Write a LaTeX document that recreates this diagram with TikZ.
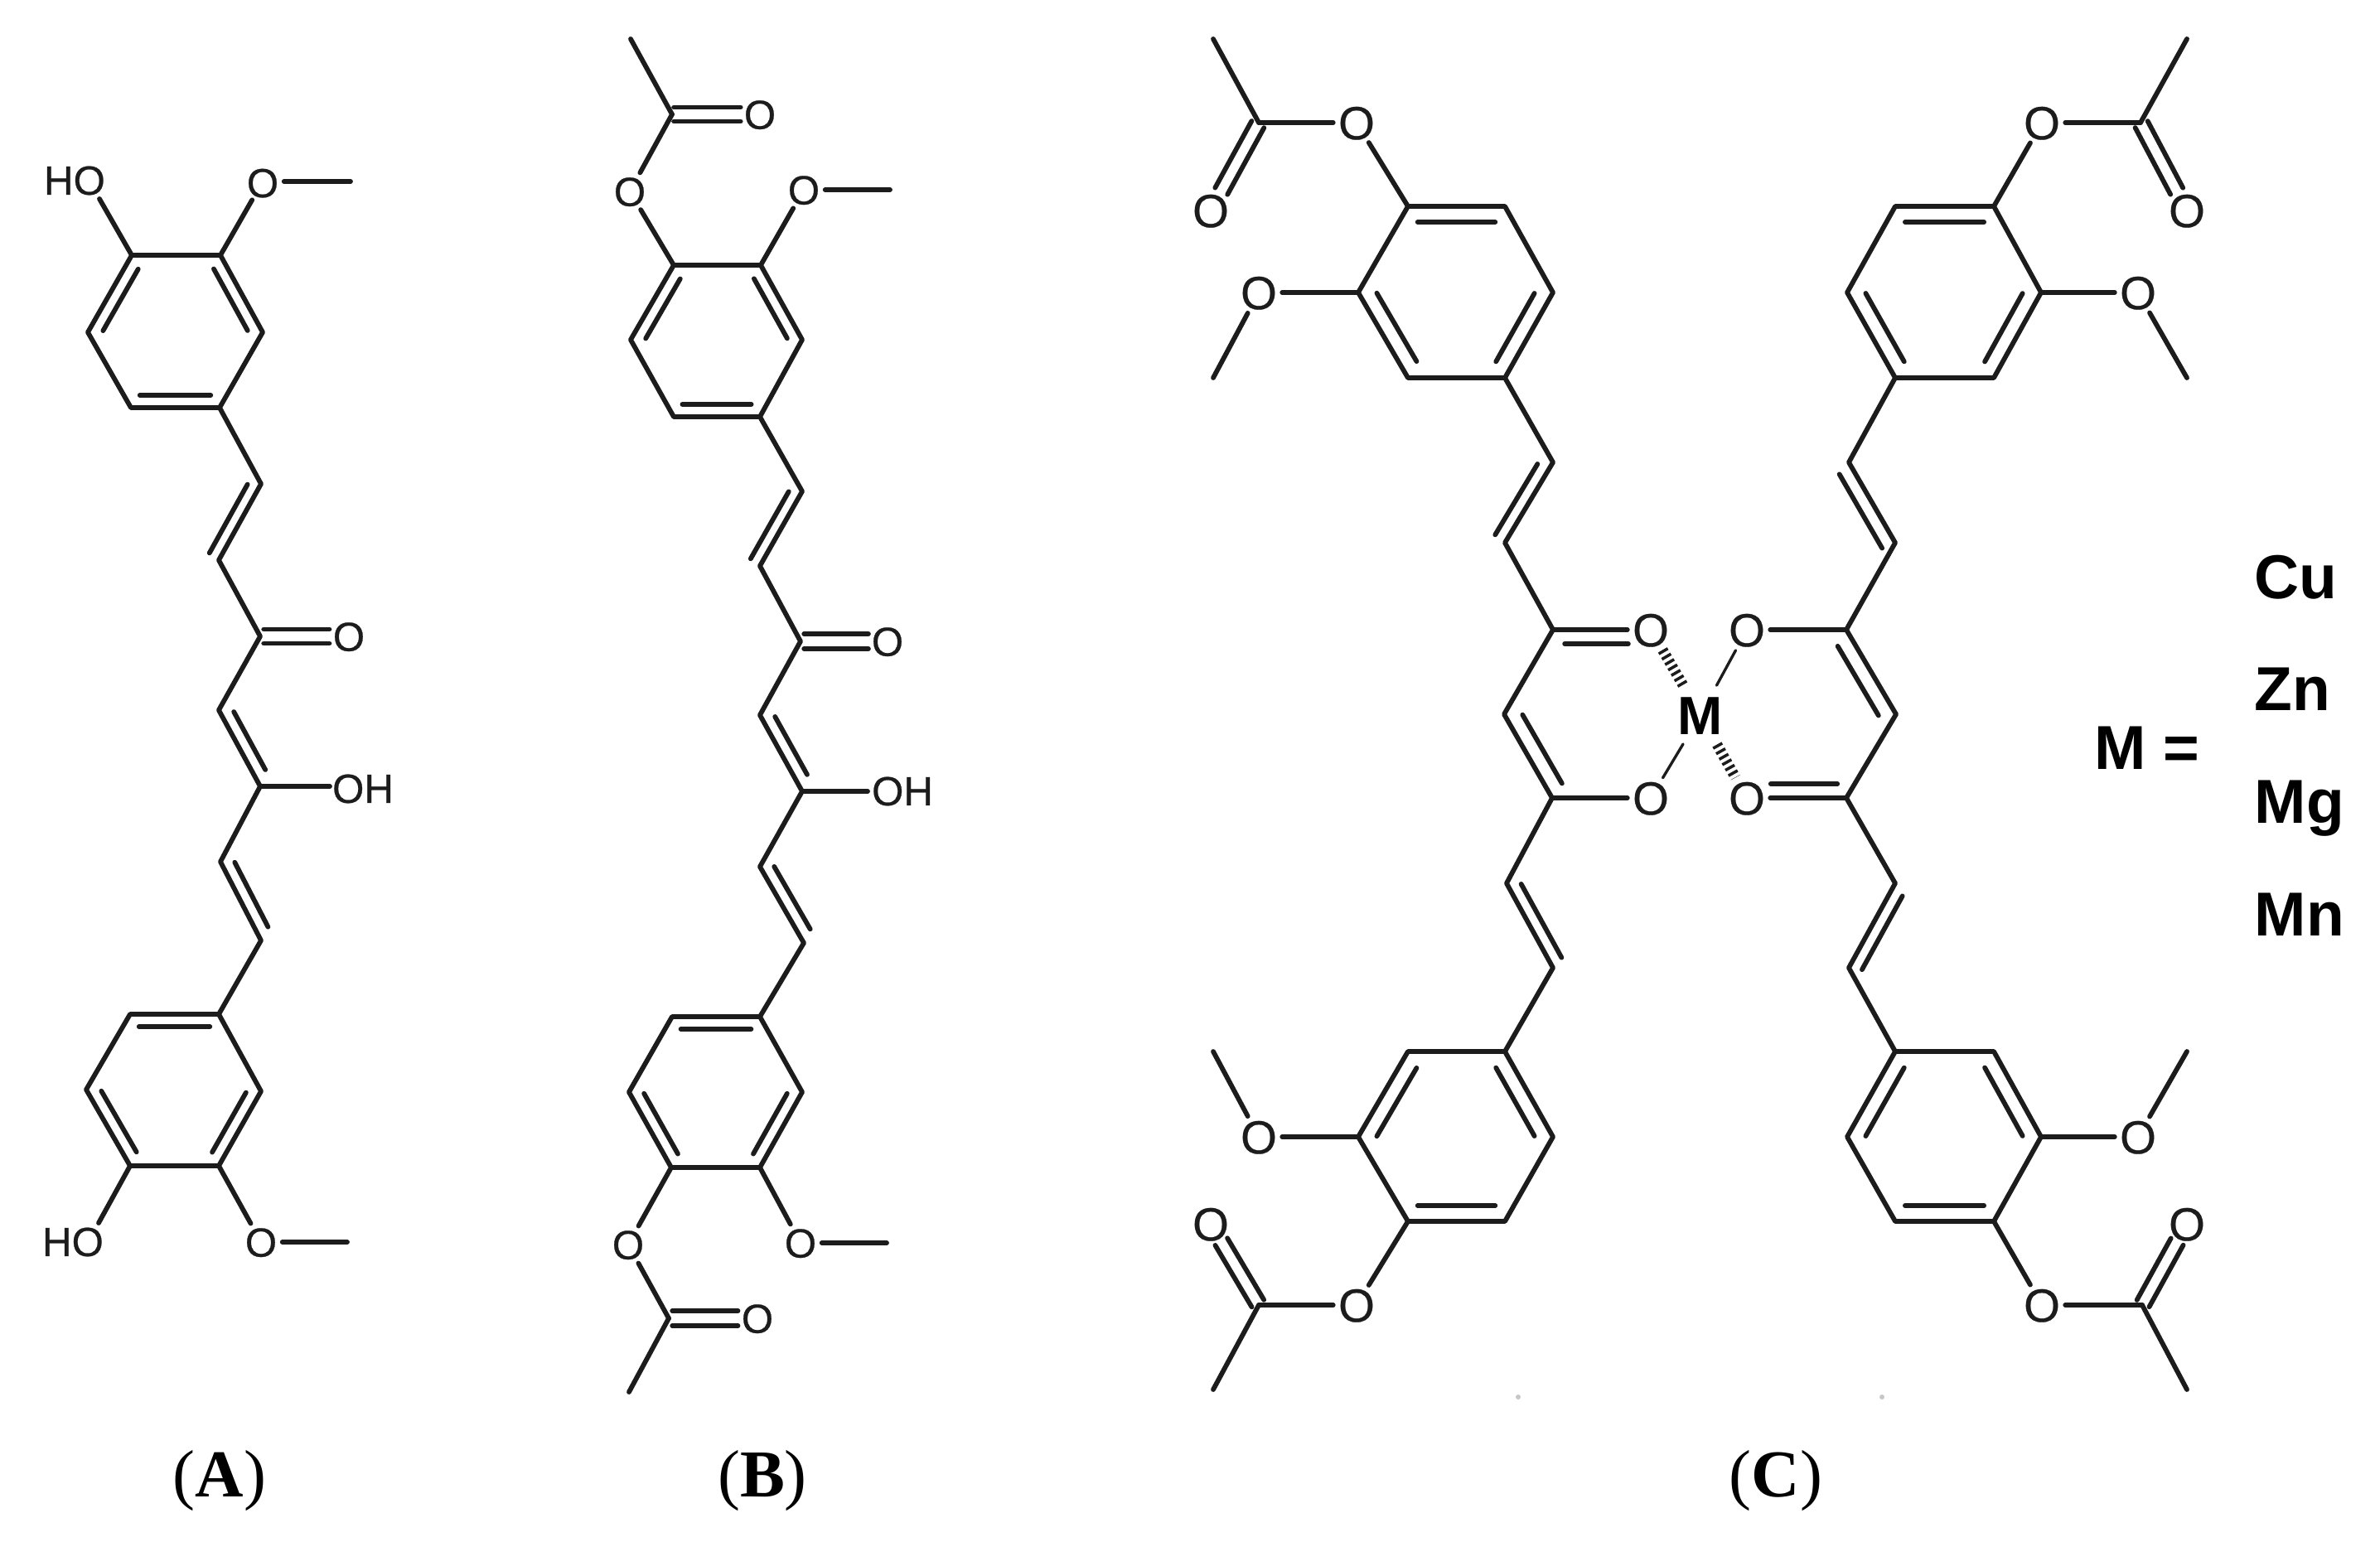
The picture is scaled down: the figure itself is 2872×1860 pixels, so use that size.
\documentclass[tikz,border=0pt]{standalone}
\usepackage{fontspec}
\setmainfont{Liberation Sans}
\newfontfamily\capfont{Liberation Serif}
\newfontfamily\atomfont[FakeBold=0.5]{Liberation Sans}
\usetikzlibrary{calc}
\definecolor{ink}{HTML}{1C1C1C}
\newcommand{\atomtxt}[1]{\raisebox{-.358em}[0pt][0pt]{\makebox[0pt]{#1}}}
\newcommand{\dbl}[5]{\draw[bond] ($(#1)!#4!(#2)!#3!90:(#2)$) -- ($(#1)!#5!(#2)!#3!90:(#2)$);}
\newcommand{\dco}[4]{\dbl{#1}{#2}{#3}{#4}{.78}\dbl{#1}{#2}{-#3}{#4}{.78}}
\tikzset{
  bond/.style={draw=ink,line width=1.65pt,line cap=round,line join=round},
  thinbond/.style={draw=ink,line width=.95pt,line cap=round},
  hashbond/.style={draw=ink,line width=3.6pt,dash pattern=on 1pt off 1.15pt},
  lab/.style={circle,inner sep=0pt,minimum size=.5cm,text=ink,font=\fontsize{14}{14}\selectfont\atomfont},
  labc/.style={circle,inner sep=0pt,minimum size=.55cm,text=ink,font=\fontsize{16}{16}\selectfont\atomfont},
  hyd/.style={inner sep=0pt,text=ink,font=\fontsize{14}{14}\selectfont\atomfont},
  metal/.style={circle,inner sep=0pt,minimum size=.8cm,text=black,font=\fontsize{18.5}{18.5}\selectfont\bfseries},
  mlist/.style={anchor=base west,inner sep=0pt,text=black,font=\fontsize{21.3}{21.3}\selectfont\bfseries},
  captext/.style={anchor=base,inner sep=0pt,text=black,font=\fontsize{23}{23}\selectfont\capfont},
  speck/.style={fill=black!22,draw=none},
}
\begin{document}
\begin{tikzpicture}[x=.01cm,y=-.01cm]
\useasboundingbox (0,0) rectangle (2872,1860);
\fill[white] (0,0) rectangle (2872,1860);

% ---------- molecule A ----------
\foreach \n/\x/\y in {A1/159/308,A2/266/308,A3/317/401,A4/265/492,A5/158/492,A6/106/401,
 A7/315/584,A8/264/676,A9/314/768,A10/264/857,A11/314/949,A12/266/1040,A13/315/1135,
 A14/264/1224,A15/157/1224,A16/104/1315,A17/157/1407,A18/264/1407,A19/315/1317,
 Am1/423/219,Am2/419/1499,AhoT/120/240,AhoB/119/1476,AohE/398/949}
  \coordinate (\n) at (\x,\y);
\node[hyd] (AHO1) at (90,218) {HO};
\node[lab] (AO1) at (317,219) {\raisebox{-.06em}{\atomtxt{O}}};
\node[lab] (AO2) at (421,768) {\atomtxt{O}};
\node[hyd] (AOH) at (438,952) {OH};
\node[hyd] (AHO2) at (88,1499) {HO};
\node[lab] (AO3) at (315,1499) {\atomtxt{O}};
\draw[bond] (A1)--(A2)--(A3)--(A4)--(A5)--(A6)--cycle;
\draw[bond] (A4)--(A7)--(A8)--(A9)--(A10)--(A11)--(A12)--(A13)--(A14);
\draw[bond] (A14)--(A15)--(A16)--(A17)--(A18)--(A19)--cycle;
\draw[bond] (A1)--(AhoT);
\draw[bond] (A2)--(AO1); \draw[bond] (AO1)--(Am1);
\draw[bond] (A11)--(AohE);
\draw[bond] (A17)--(AhoB);
\draw[bond] (A18)--(AO3); \draw[bond] (AO3)--(Am2);
\dbl{A6}{A1}{-.15cm}{.1}{.9}\dbl{A2}{A3}{-.15cm}{.1}{.9}\dbl{A4}{A5}{-.15cm}{.1}{.9}
\dbl{A7}{A8}{-.14cm}{.08}{.98}\dbl{A10}{A11}{.15cm}{.1}{.86}\dbl{A12}{A13}{.15cm}{.08}{.9}
\dco{A9}{AO2}{.085cm}{.04}
\dbl{A14}{A15}{.15cm}{.1}{.9}\dbl{A16}{A17}{.15cm}{.1}{.9}\dbl{A18}{A19}{.15cm}{.1}{.9}

% ---------- molecule B ----------
\foreach \n/\x/\y in {B1/813/320,B2/918/320,B3/968/410,B4/917/503,B5/813/503,B6/761/410,
 B7/968/593,B8/917/683,B9/966/774,B10/917/863,B11/968/955,B12/917/1046,B13/970/1138,
 B14/917/1227,B15/811/1227,B16/759/1318,B17/810/1409,B18/917/1409,B19/968/1318,
 Bm1/761/47,Bc1/811/138,Bm2/1074/229,Bm3/1070/1500,Bc2/807/1591,Bm4/759/1680,BohE/1047/955}
  \coordinate (\n) at (\x,\y);
\node[lab] (BO1) at (917,138) {\atomtxt{O}};
\node[lab] (BO2) at (760,231) {\atomtxt{O}};
\node[lab] (BO3) at (970,229) {\atomtxt{O}};
\node[lab] (BO4) at (1071,774) {\atomtxt{O}};
\node[hyd] (BOH) at (1089,955) {OH};
\node[lab] (BO5) at (758,1502) {\atomtxt{O}};
\node[lab] (BO6) at (966,1500) {\atomtxt{O}};
\node[lab] (BO7) at (914,1591) {\atomtxt{O}};
\draw[bond] (B1)--(B2)--(B3)--(B4)--(B5)--(B6)--cycle;
\draw[bond] (B4)--(B7)--(B8)--(B9)--(B10)--(B11)--(B12)--(B13)--(B14);
\draw[bond] (B14)--(B15)--(B16)--(B17)--(B18)--(B19)--cycle;
\draw[bond] (Bm1)--(Bc1); \draw[bond] (Bc1)--(BO2); \draw[bond] (BO2)--(B1);
\draw[bond] (B2)--(BO3); \draw[bond] (BO3)--(Bm2);
\draw[bond] (B11)--(BohE);
\draw[bond] (B17)--(BO5); \draw[bond] (BO5)--(Bc2); \draw[bond] (Bc2)--(Bm4);
\draw[bond] (B18)--(BO6); \draw[bond] (BO6)--(Bm3);
\dbl{B6}{B1}{-.15cm}{.1}{.9}\dbl{B2}{B3}{-.15cm}{.1}{.9}\dbl{B4}{B5}{-.15cm}{.1}{.9}
\dbl{B7}{B8}{-.14cm}{.08}{.98}\dbl{B10}{B11}{.15cm}{.1}{.86}\dbl{B12}{B13}{.15cm}{.08}{.9}
\dco{B9}{BO4}{.09cm}{.04}\dco{Bc1}{BO1}{.085cm}{.02}\dco{Bc2}{BO7}{.09cm}{.04}
\dbl{B14}{B15}{.15cm}{.1}{.9}\dbl{B16}{B17}{.15cm}{.1}{.9}\dbl{B18}{B19}{.15cm}{.1}{.9}

% ---------- molecule C, left ----------
\foreach \n/\x/\y in {Ca/1699/249,Cb/1816/249,Cc/1874/353,Cd/1816/456,Ce/1699/456,Cf/1639/353,
 Cg/1874/558,Ch/1816/655,Ci/1874/760,Cj/1815/862,Ck/1873/963,Cl/1818/1066,Cm/1874/1168,
 Cn/1816/1269,Co/1699/1269,Cp/1639/1372,Cq/1699/1474,Cr/1816/1474,Cs/1874/1372,
 Cv1/1519/148,Cm1/1464/47,Cm2/1464/456,Cm3/1464/1269,Cv2/1519/1575,Cm4/1464/1677}
  \coordinate (\n) at (\x,\y);
\node[labc] (CO1) at (1637,148) {\atomtxt{O}};
\node[labc] (CO2) at (1461,254) {\atomtxt{O}};
\node[labc] (CO3) at (1519,353) {\atomtxt{O}};
\node[labc] (CO4) at (1992,760) {\atomtxt{O}};
\node[labc] (CO5) at (1992,963) {\atomtxt{O}};
\node[labc] (CO6) at (1519,1372) {\atomtxt{O}};
\node[labc] (CO7) at (1637,1575) {\atomtxt{O}};
\node[labc] (CO8) at (1461,1477) {\atomtxt{O}};
\draw[bond] (Ca)--(Cb)--(Cc)--(Cd)--(Ce)--(Cf)--cycle;
\draw[bond] (Cd)--(Cg)--(Ch)--(Ci)--(Cj)--(Ck)--(Cl)--(Cm)--(Cn);
\draw[bond] (Cn)--(Co)--(Cp)--(Cq)--(Cr)--(Cs)--cycle;
\draw[bond] (Ca)--(CO1); \draw[bond] (CO1)--(Cv1); \draw[bond] (Cv1)--(Cm1);
\draw[bond] (Cf)--(CO3); \draw[bond] (CO3)--(Cm2);
\draw[bond] (Ci)--(CO4);
\draw[bond] (Ck)--(CO5);
\draw[bond] (Cp)--(CO6); \draw[bond] (CO6)--(Cm3);
\draw[bond] (Cq)--(CO7); \draw[bond] (CO7)--(Cv2); \draw[bond] (Cv2)--(Cm4);
\dbl{Ca}{Cb}{-.19cm}{.1}{.9}\dbl{Cc}{Cd}{-.19cm}{.1}{.9}\dbl{Ce}{Cf}{-.19cm}{.1}{.9}
\dbl{Cg}{Ch}{-.15cm}{.1}{.98}\dbl{Cj}{Ck}{.19cm}{.1}{.92}\dbl{Cl}{Cm}{.15cm}{.08}{.95}
\dbl{Ci}{CO4}{-.17cm}{.12}{.77}
\dco{Cv1}{CO2}{.085cm}{.02}\dco{Cv2}{CO8}{.085cm}{.02}
\dbl{Co}{Cp}{.19cm}{.1}{.9}\dbl{Cq}{Cr}{.19cm}{.1}{.9}\dbl{Cs}{Cn}{.19cm}{.1}{.9}

% ---------- molecule C, right ----------
\foreach \n/\x/\y in {Ra/2287/249,Rb/2406/249,Rc/2463/353,Rd/2406/456,Re/2287/456,Rf/2229/353,
 Rg/2231/558,Rh/2287/655,Ri/2228/760,Rj/2288/862,Rk/2228/963,Rl/2287/1066,Rm/2231/1168,
 Rn/2287/1269,Ro/2406/1269,Rp/2463/1372,Rq/2406/1474,Rr/2287/1474,Rs/2229/1372,
 Rv1/2583/148,Rm1/2639/47,Rm2/2639/456,Rm3/2639/1269,Rv2/2585/1575,Rm4/2639/1677}
  \coordinate (\n) at (\x,\y);
\node[labc] (RO1) at (2464,148) {\atomtxt{O}};
\node[labc] (RO2) at (2639,254) {\atomtxt{O}};
\node[labc] (RO3) at (2580,353) {\atomtxt{O}};
\node[labc] (RO4) at (2108,760) {\atomtxt{O}};
\node[labc] (RO5) at (2108,963) {\atomtxt{O}};
\node[labc] (RO6) at (2580,1372) {\atomtxt{O}};
\node[labc] (RO7) at (2464,1575) {\atomtxt{O}};
\node[labc] (RO8) at (2639,1477) {\atomtxt{O}};
\draw[bond] (Ra)--(Rb)--(Rc)--(Rd)--(Re)--(Rf)--cycle;
\draw[bond] (Re)--(Rg)--(Rh)--(Ri)--(Rj)--(Rk)--(Rl)--(Rm)--(Rn);
\draw[bond] (Rn)--(Ro)--(Rp)--(Rq)--(Rr)--(Rs)--cycle;
\draw[bond] (Rb)--(RO1); \draw[bond] (RO1)--(Rv1); \draw[bond] (Rv1)--(Rm1);
\draw[bond] (Rc)--(RO3); \draw[bond] (RO3)--(Rm2);
\draw[bond] (Ri)--(RO4);
\draw[bond] (Rk)--(RO5);
\draw[bond] (Rp)--(RO6); \draw[bond] (RO6)--(Rm3);
\draw[bond] (Rq)--(RO7); \draw[bond] (RO7)--(Rv2); \draw[bond] (Rv2)--(Rm4);
\dbl{Ra}{Rb}{-.19cm}{.1}{.9}\dbl{Rc}{Rd}{-.19cm}{.1}{.9}\dbl{Re}{Rf}{-.19cm}{.1}{.9}
\dbl{Rg}{Rh}{-.17cm}{.06}{.98}\dbl{Ri}{Rj}{-.19cm}{.1}{.92}\dbl{Rl}{Rm}{.15cm}{.08}{.95}
\dbl{Rk}{RO5}{-.17cm}{.09}{.76}
\dco{Rv1}{RO2}{.085cm}{.02}\dco{Rv2}{RO8}{.085cm}{.02}
\dbl{Ro}{Rp}{-.19cm}{.1}{.9}\dbl{Rq}{Rr}{-.19cm}{.1}{.9}\dbl{Rs}{Rn}{-.19cm}{.1}{.9}

% ---------- metal centre ----------
\node[metal] (M) at (2052,863) {\atomtxt{M}};
\draw[thinbond] (M)--(RO4);
\draw[thinbond] (M)--(CO5);
\draw[hashbond] (CO4)--(M);
\draw[hashbond] (M)--(RO5);

% ---------- metal list ----------
\node[mlist] (mEq) at (2527,928) {M =};
\node[mlist] (mCu) at (2720,722) {Cu};
\node[mlist] (mZn) at (2720,857) {Zn};
\node[mlist] (mMg) at (2720,993) {Mg};
\node[mlist] (mMn) at (2720,1129) {Mn};

% ---------- captions ----------
\node[captext] (capA) at (265,1806) {(\textbf{A})};
\node[captext] (capB) at (920,1806) {(\textbf{B})};
\node[captext] (capC) at (2143,1806) {(\textbf{C})};

% ---------- faint specks ----------
\fill[speck] (1832,1686) circle (3);
\fill[speck] (2271,1686) circle (3);
\end{tikzpicture}
\end{document}
